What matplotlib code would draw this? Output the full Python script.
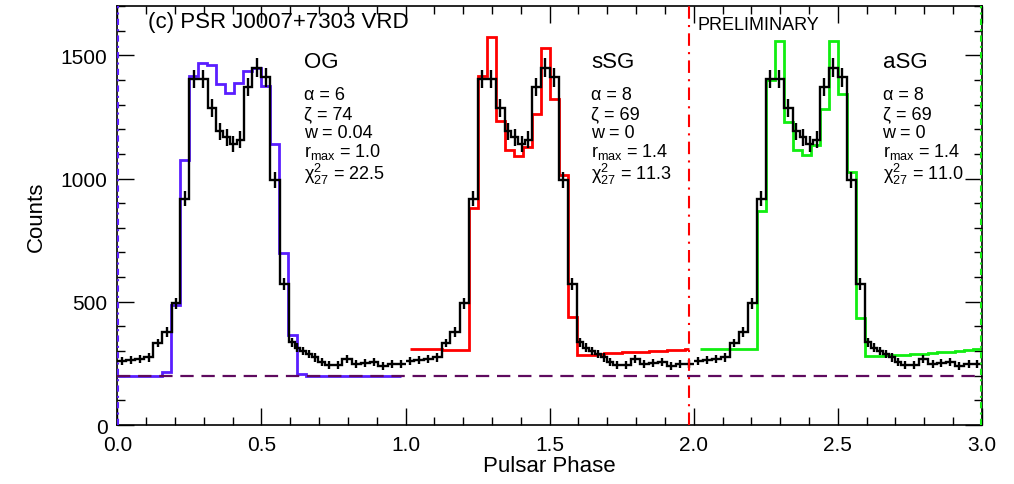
import numpy as np
import matplotlib
matplotlib.use('Agg')
import matplotlib.pyplot as plt
from matplotlib.ticker import MultipleLocator, FormatStrFormatter

plt.rcParams['font.family'] = ['Liberation Sans', 'DejaVu Sans']
plt.rcParams['mathtext.fontset'] = 'custom'
plt.rcParams['mathtext.rm'] = 'Liberation Sans'
plt.rcParams['mathtext.it'] = 'Liberation Sans:italic'

# observed light curve, one rotation (variable bins)
data_edges = [0.0, 0.031, 0.063, 0.094, 0.125, 0.156, 0.188, 0.219, 0.25, 0.281,
              0.313, 0.344, 0.367, 0.391, 0.414, 0.438, 0.469, 0.5, 0.531, 0.563,
              0.594, 0.615, 0.635, 0.656, 0.677, 0.698, 0.719, 0.75, 0.781, 0.813,
              0.844, 0.875, 0.906, 0.938, 0.969, 1.0]
data_counts = [260, 265, 268, 274, 333, 377, 494, 918, 1403, 1405,
               1286, 1192, 1167, 1140, 1158, 1370, 1450, 1410, 995, 571,
               336, 314, 301, 287, 274, 256, 242, 243, 267, 248,
               251, 255, 241, 247, 246]
data_errs = [16, 16, 16, 17, 18, 19, 22, 30, 37, 37,
             36, 35, 34, 34, 34, 37, 38, 38, 32, 24,
             18, 18, 17, 17, 17, 16, 16, 16, 16, 16,
             16, 16, 16, 16, 16]

# model light curves, 32 bins per rotation
og_counts = [197, 197, 197, 197, 197, 216, 487, 1077, 1414, 1470,
             1460, 1384, 1345, 1387, 1438, 1450, 1377, 1142, 699, 364,
             206, 197, 197, 197, 197, 197, 197, 197, 197, 197,
             197, 197]
ssg_counts = [308, 308, 307, 307, 305, 304, 304, 881, 1417, 1574,
              1232, 1117, 1090, 1127, 1262, 1529, 1324, 1013, 440, 284,
              286, 289, 291, 293, 295, 297, 298, 300, 302, 304,
              306, 307]
asg_counts = [310, 310, 309, 309, 309, 308, 308, 868, 1401, 1559,
              1229, 1117, 1097, 1138, 1282, 1556, 1344, 1026, 436, 281,
              282, 283, 285, 286, 288, 290, 292, 295, 298, 301,
              304, 307]

background = 198
models = ['OG', 'sSG', 'aSG']
alphas = [6, 8, 8]
zetas = [74, 69, 69]
ws = ['0.04', '0', '0']
rmaxs = ['1.0', '1.4', '1.4']
chi2s = ['22.5', '11.3', '11.0']

c_og = '#5a1eff'
c_ssg = '#ff0000'
c_asg = '#11ee11'
c_bg = '#5e0a5e'

fig = plt.figure(figsize=(10.14, 4.85), dpi=100)
ax = fig.add_axes([0.1157, 0.1216, 0.8527, 0.864])

edges = np.array(data_edges)
centers = (edges[:-1] + edges[1:]) / 2.
grid = np.linspace(0., 1., 33)

# data repeated over three rotations
for p in range(3):
    ax.stairs(data_counts, edges + p, baseline=None, color='k', lw=1.7, zorder=4)
    ax.errorbar(centers + p, data_counts, yerr=data_errs, fmt='none', ecolor='k',
                elinewidth=1.7, capsize=0, zorder=4)

# models, drawn IDL histogram style
e_og = grid.copy()
e_og[-1] = 0.986
ax.stairs(og_counts, e_og, baseline=None, color=c_og, lw=2.0, zorder=3)
e_ssg = grid + 1
e_ssg[0] = 1.0156
e_ssg[-1] = 1.984
ax.stairs(ssg_counts, e_ssg, baseline=None, color=c_ssg, lw=2.0, zorder=3)
e_asg = grid + 2
e_asg[0] = 2.02
e_asg[-1] = 2.995
ax.stairs(asg_counts, e_asg, baseline=None, color=c_asg, lw=2.0, zorder=3)

ax.axhline(background, color=c_bg, lw=1.6, dashes=(6, 3.5), zorder=5)
ax.axvline(0.003, color=c_og, lw=1.5, linestyle=(0, (3, 2, 1, 2)), zorder=6)
ax.axvline(1.985, color=c_ssg, lw=1.5, linestyle=(0, (6, 3, 1, 3)), zorder=6)
ax.axvline(2.996, color=c_asg, lw=1.5, linestyle=(0, (3, 2, 1, 2)), zorder=6)

ax.set_xlim(0, 3)
ax.set_ylim(0, 1700)
ax.xaxis.set_major_locator(MultipleLocator(0.5))
ax.xaxis.set_minor_locator(MultipleLocator(0.1))
ax.xaxis.set_major_formatter(FormatStrFormatter('%.1f'))
ax.yaxis.set_major_locator(MultipleLocator(500))
ax.yaxis.set_minor_locator(MultipleLocator(100))
ax.tick_params(which='both', direction='in', top=True, right=True, width=1.0,
               labelsize=15)
ax.tick_params(which='major', length=12, pad=7)
ax.tick_params(which='minor', length=6)
for s in ax.spines.values():
    s.set_linewidth(1.2)

ax.set_xlabel('Pulsar Phase', fontsize=16, labelpad=1)
ax.set_ylabel('Counts', fontsize=16, labelpad=10)

ax.text(0.107, 1636, '(c) PSR J0007+7303 VRD', fontsize=16, ha='left', va='center')
ax.text(2.013, 1625, 'PRELIMINARY', fontsize=13, ha='left', va='center')

xs = [0.648, 1.645, 2.655]
for i in range(3):
    x = xs[i]
    ax.text(x, 1474, models[i], fontsize=16, ha='left', va='center')
    ax.text(x, 1340, '\u03b1 = %d' % alphas[i], fontsize=13, ha='left', va='center')
    ax.text(x, 1263, '\u03b6 = %d' % zetas[i], fontsize=13, ha='left', va='center')
    ax.text(x, 1186, 'w = ' + ws[i], fontsize=13, ha='left', va='center')
    ax.text(x, 1110, r'r$_{\rm max}$ = ' + rmaxs[i], fontsize=13, ha='left', va='center')
    ax.text(x, 1022, '\u03c7$^{2}_{27}$ = ' + chi2s[i], fontsize=13, ha='left', va='center')

fig.savefig('out.png', dpi=100)
